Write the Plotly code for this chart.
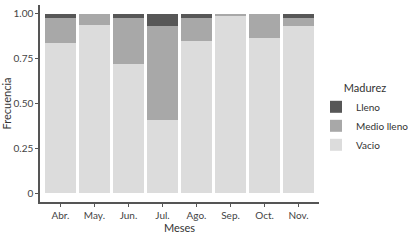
import plotly.graph_objects as go

meses = ["Abr.", "May.", "Jun.", "Jul.", "Ago.", "Sep.", "Oct.", "Nov."]
vacio = [0.84, 0.94, 0.72, 0.41, 0.85, 0.99, 0.865, 0.93]
medio_lleno = [0.14, 0.06, 0.26, 0.52, 0.13, 0.01, 0.135, 0.05]
lleno = [0.02, 0.0, 0.02, 0.07, 0.02, 0.0, 0.0, 0.02]
y_ticks = [0, 0.25, 0.5, 0.75, 1.0]
y_ticktext = ["0", "0.25", "0.50", "0.75", "1.00"]

FONT = "Lato"
fig = go.Figure()
fig.add_trace(go.Bar(x=meses, y=vacio, name="Vacio", marker=dict(color="#DCDCDC", line=dict(width=0))))
fig.add_trace(go.Bar(x=meses, y=medio_lleno, name="Medio lleno", marker=dict(color="#A8A8A8", line=dict(width=0))))
fig.add_trace(go.Bar(x=meses, y=lleno, name="Lleno", marker=dict(color="#575757", line=dict(width=0))))

fig.update_layout(
    width=408, height=240,
    barmode="stack", bargap=0.1,
    plot_bgcolor="white", paper_bgcolor="white",
    margin=dict(l=40, r=89, t=5, b=38, autoexpand=False),
    font=dict(family=FONT, size=10, color="#333333"),
    legend=dict(
        title=dict(text="Madurez", font=dict(size=11, color="#333333"), side="top center"),
        traceorder="reversed",
        xref="container", yref="container",
        x=316 / 408, xanchor="left", y=1 - 78 / 240, yanchor="top",
        font=dict(size=10, color="#333333"),
        itemwidth=30, tracegroupgap=0,
        bgcolor="rgba(0,0,0,0)",
    ),
    xaxis=dict(
        range=[-0.6, 7.6], showline=True, linecolor="#555555", linewidth=1.5,
        ticks="outside", ticklen=3, tickcolor="#555555",
        tickfont=dict(size=10, color="#444444"),
        title=dict(text="Meses", font=dict(size=11, color="#333333"), standoff=4),
        showgrid=False, zeroline=False, automargin=False,
    ),
    yaxis=dict(
        range=[-0.05, 1.05], showline=True, linecolor="#555555", linewidth=1.5,
        ticks="outside", ticklen=3, tickcolor="#555555",
        tickvals=y_ticks, ticktext=y_ticktext,
        tickfont=dict(size=10, color="#444444"),
        title=dict(text="Frecuencia", font=dict(size=11, color="#333333"), standoff=0),
        showgrid=False, zeroline=False, automargin=False,
    ),
)
fig.write_html("out.html", config={"displayModeBar": False},
               post_script="document.body.style.margin='0px';")
